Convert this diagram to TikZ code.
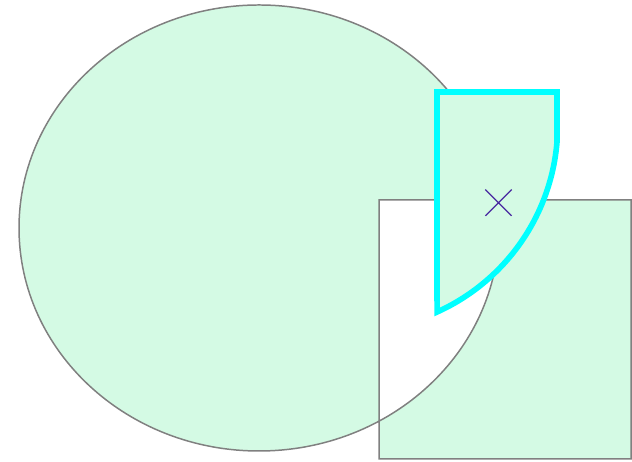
\documentclass[tikz,border=0pt]{standalone}
\usepackage{tikz}
\usetikzlibrary{shapes.misc}
\definecolor{mint}{RGB}{212,250,228}
\definecolor{edgegray}{RGB}{128,128,128}
\definecolor{markblue}{RGB}{72,40,160}
\definecolor{aqua}{RGB}{0,255,255}
\begin{document}
\begin{tikzpicture}[
      x=0.02cm, y=0.02cm,
      region/.style={draw=edgegray, line width=0.85pt, fill=mint, even odd rule},
      wedge/.style={draw=aqua, line width=3.2pt, fill=mint, line join=miter},
      marker/.style={cross out, draw=markblue, line width=0.7pt, minimum size=0.5cm,
                     inner sep=0pt},
    ]
    \useasboundingbox (0,0) rectangle (632,462);

    % ellipse and square, overlap left empty
    \path[region] (259,234) ellipse [x radius=240, y radius=223]
                  (379,3) rectangle (631,262);

    % clipped wedge on top
    \path[wedge] (437,370) -- (557,370) -- (557,320)
                 arc [start angle=-4.7, end angle=-65.7, radius=205] -- cycle;

    % centre mark
    \node[marker] (centre) at (498.5,259.3) {};
  \end{tikzpicture}
\end{document}
